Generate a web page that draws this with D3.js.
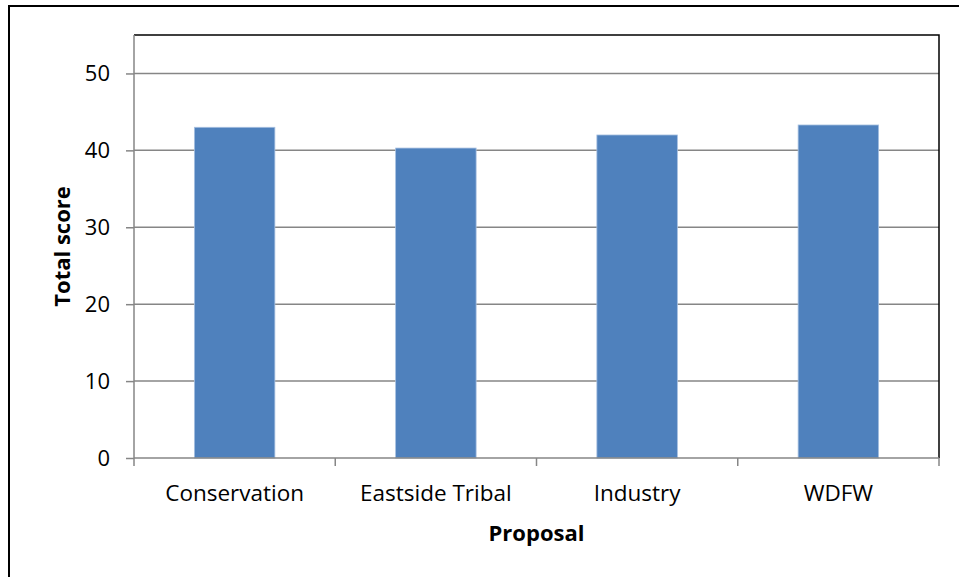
<!DOCTYPE html>
<html>
<head>
<meta charset="utf-8">
<script src="https://cdn.jsdelivr.net/npm/d3@7"></script>
<style>
  body { margin: 0; background: #fff; }
  text { font-family: "Open Sans", "Noto Sans", sans-serif; fill: #000; }
</style>
</head>
<body>
<div id="chart"></div>
<script>
// data
const proposals = ["Conservation", "Eastside Tribal", "Industry", "WDFW"];
const scores = [43.0, 40.3, 42.0, 43.3];
const yTicks = [0, 10, 20, 30, 40, 50];

const width = 959, height = 577;
const margin = { left: 134, right: 20, top: 35, bottom: 119 };

const svg = d3.select("#chart").append("svg")
  .attr("width", width)
  .attr("height", height);

// outer frame of the chart
svg.append("rect")
  .attr("x", 9).attr("y", 6)
  .attr("width", width + 10).attr("height", height + 10)
  .attr("fill", "none").attr("stroke", "#000").attr("stroke-width", 2);

const x = d3.scaleBand()
  .domain(proposals)
  .range([margin.left, width - margin.right])
  .paddingInner(0.6).paddingOuter(0.3);

const y = d3.scaleLinear()
  .domain([0, 55])
  .range([height - margin.bottom, margin.top]);

// gridlines
svg.append("g")
  .selectAll("line")
  .data(yTicks.filter(d => d > 0))
  .join("line")
  .attr("x1", margin.left).attr("x2", width - margin.right)
  .attr("y1", d => y(d)).attr("y2", d => y(d))
  .attr("stroke", "#868686").attr("stroke-width", 1.5);

// plot frame (top + right)
svg.append("path")
  .attr("d", `M${margin.left},${margin.top}H${width - margin.right}V${height - margin.bottom}`)
  .attr("fill", "none").attr("stroke", "#000").attr("stroke-width", 1.5);

// bars
svg.append("g")
  .selectAll("rect")
  .data(proposals)
  .join("rect")
  .attr("x", d => x(d))
  .attr("y", (d, i) => y(scores[i]))
  .attr("width", x.bandwidth())
  .attr("height", (d, i) => y(0) - y(scores[i]))
  .attr("fill", "#4F81BD")
  .attr("stroke", "#A7C0E0").attr("stroke-width", 0.8);

// y axis
const yAxis = svg.append("g")
  .attr("transform", `translate(${margin.left},0)`)
  .call(d3.axisLeft(y).tickValues(yTicks).tickSize(8).tickPadding(16));
yAxis.selectAll("line, path").attr("stroke", "#868686").attr("stroke-width", 1.5);
yAxis.select(".domain").attr("d", `M0,${y(0)}V${margin.top}`);
yAxis.selectAll("text").style("font-size", "22px");

// x axis, ticks sit on band boundaries
const xAxis = svg.append("g")
  .attr("transform", `translate(0,${y(0)})`);
xAxis.append("line")
  .attr("x1", margin.left).attr("x2", width - margin.right)
  .attr("stroke", "#868686").attr("stroke-width", 1.5);
const step = (width - margin.right - margin.left) / proposals.length;
xAxis.selectAll(".tk")
  .data(d3.range(proposals.length + 1))
  .join("line")
  .attr("class", "tk")
  .attr("x1", i => margin.left + i * step).attr("x2", i => margin.left + i * step)
  .attr("y1", 0).attr("y2", 8)
  .attr("stroke", "#868686").attr("stroke-width", 1.5);
xAxis.selectAll("text")
  .data(proposals)
  .join("text")
  .attr("x", d => x(d) + x.bandwidth() / 2)
  .attr("y", 43)
  .attr("text-anchor", "middle")
  .style("font-size", "22.5px")
  .text(d => d);

// axis titles
svg.append("text")
  .attr("transform", `translate(70,${(y(0) + margin.top) / 2}) rotate(-90)`)
  .attr("text-anchor", "middle")
  .style("font-size", "22px").style("font-weight", "bold")
  .text("Total score");

svg.append("text")
  .attr("x", (margin.left + width - margin.right) / 2)
  .attr("y", 541)
  .attr("text-anchor", "middle")
  .style("font-size", "22px").style("font-weight", "bold")
  .text("Proposal");
</script>
</body>
</html>
